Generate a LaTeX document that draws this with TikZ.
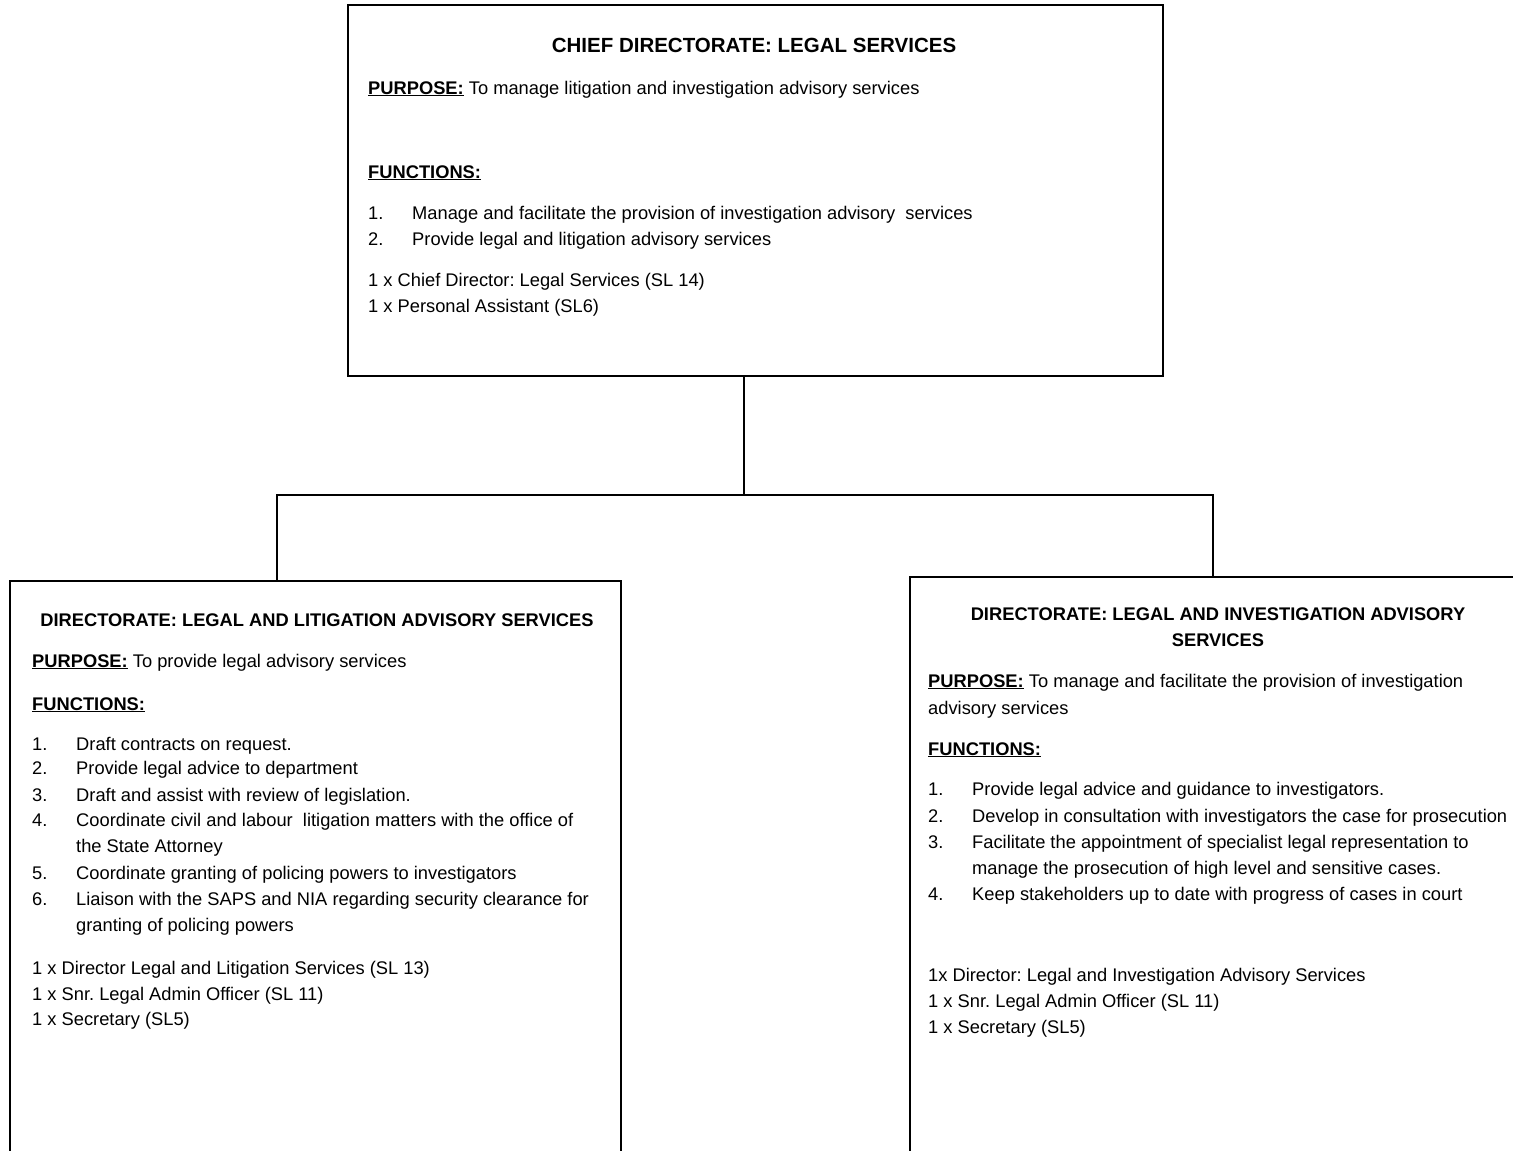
\documentclass[tikz,border=0pt]{standalone}
\usepackage{fontspec}
\setmainfont{Liberation Sans}
\frenchspacing
\begin{document}
\begin{tikzpicture}[x=1pt,y=-1pt,
  every node/.style={font=\fontsize{18.3}{26}\selectfont},
  box/.style={draw, line width=2pt, rectangle, inner sep=0pt},
  txt/.style={anchor=base west, inner sep=0pt},
  ttl/.style={anchor=base, inner sep=0pt, font=\fontsize{18.3}{26}\selectfont\bfseries},
  bigttl/.style={ttl, font=\fontsize{20.5}{26}\selectfont\bfseries},
  link/.style={line width=2pt}]
\useasboundingbox (0,0) rectangle (1513,1151);
\clip (0,0) rectangle (1513,1151);
\newcommand{\hd}[1]{\textbf{\underline{#1}}}

% unit boxes
\node[box, minimum width=815pt, minimum height=371pt] (top) at (755.5,190.5) {};
\node[box, minimum width=611pt, minimum height=620pt] (left) at (315.5,891) {};
\node[box, minimum width=640pt, minimum height=620pt] (right) at (1230,887) {};

% connectors
\coordinate (bus) at (744,495);
\coordinate (lj) at (277,495);
\coordinate (rj) at (1213,495);
\draw[link] (top.south -| bus) -- (bus);
\draw[link] (lj |- left.north) -- (lj) -- (rj) -- (rj |- right.north);

% chief directorate
\node[bigttl] (t0) at (754,52) {CHIEF DIRECTORATE: LEGAL SERVICES};
\node[txt] (t1) at (368,94) {\hd{PURPOSE:} To manage litigation and investigation advisory services};
\node[txt] (t2) at (368,178) {\hd{FUNCTIONS:}};
\node[txt] (t3n) at (368,219) {1.};
\node[txt] (t3) at (412,219) {Manage and facilitate the provision of investigation advisory\ \ services};
\node[txt] (t4n) at (368,245) {2.};
\node[txt] (t4) at (412,245) {Provide legal and litigation advisory services};
\node[txt] (t5) at (368,286) {1 x Chief Director: Legal Services (SL 14)};
\node[txt] (t6) at (368,312) {1 x Personal Assistant (SL6)};

% legal and litigation advisory services
\node[ttl] (l0) at (317,626) {DIRECTORATE: LEGAL AND LITIGATION ADVISORY SERVICES};
\node[txt] (l1) at (32,667) {\hd{PURPOSE:} To provide legal advisory services};
\node[txt] (l2) at (32,710) {\hd{FUNCTIONS:}};
\node[txt] (l3n) at (32,750) {1.};
\node[txt] (l3) at (76,750) {Draft contracts on request.};
\node[txt] (l4n) at (32,774) {2.};
\node[txt] (l4) at (76,774) {Provide legal advice to department};
\node[txt] (l5n) at (32,801) {3.};
\node[txt] (l5) at (76,801) {Draft and assist with review of legislation.};
\node[txt] (l6n) at (32,826) {4.};
\node[txt] (l6) at (76,826) {Coordinate civil and labour\ \ litigation matters with the office of};
\node[txt] (l6b) at (76,852) {the State Attorney};
\node[txt] (l7n) at (32,879) {5.};
\node[txt] (l7) at (76,879) {Coordinate granting of policing powers to investigators};
\node[txt] (l8n) at (32,905) {6.};
\node[txt] (l8) at (76,905) {Liaison with the SAPS and NIA regarding security clearance for};
\node[txt] (l8b) at (76,931) {granting of policing powers};
\node[txt] (l9) at (32,974) {1 x Director Legal and Litigation Services (SL 13)};
\node[txt] (l10) at (32,1000) {1 x Snr. Legal Admin Officer (SL 11)};
\node[txt] (l11) at (32,1025) {1 x Secretary (SL5)};

% legal and investigation advisory services
\node[ttl] (r0) at (1218,620) {DIRECTORATE: LEGAL AND INVESTIGATION ADVISORY};
\node[ttl] (r0b) at (1218,646) {SERVICES};
\node[txt] (r1) at (928,687) {\hd{PURPOSE:} To manage and facilitate the provision of investigation};
\node[txt] (r1b) at (928,714) {advisory services};
\node[txt] (r2) at (928,755) {\hd{FUNCTIONS:}};
\node[txt] (r3n) at (928,795) {1.};
\node[txt] (r3) at (972,795) {Provide legal advice and guidance to investigators.};
\node[txt] (r4n) at (928,822) {2.};
\node[txt] (r4) at (972,822) {Develop in consultation with investigators the case for prosecution};
\node[txt] (r5n) at (928,848) {3.};
\node[txt] (r5) at (972,848) {Facilitate the appointment of specialist legal representation to};
\node[txt] (r5b) at (972,874) {manage the prosecution of high level and sensitive cases.};
\node[txt] (r6n) at (928,900) {4.};
\node[txt] (r6) at (972,900) {Keep stakeholders up to date with progress of cases in court};
\node[txt] (r7) at (928,981) {1x Director: Legal and Investigation Advisory Services};
\node[txt] (r8) at (928,1007) {1 x Snr. Legal Admin Officer (SL 11)};
\node[txt] (r9) at (928,1033) {1 x Secretary (SL5)};
\end{tikzpicture}
\end{document}
